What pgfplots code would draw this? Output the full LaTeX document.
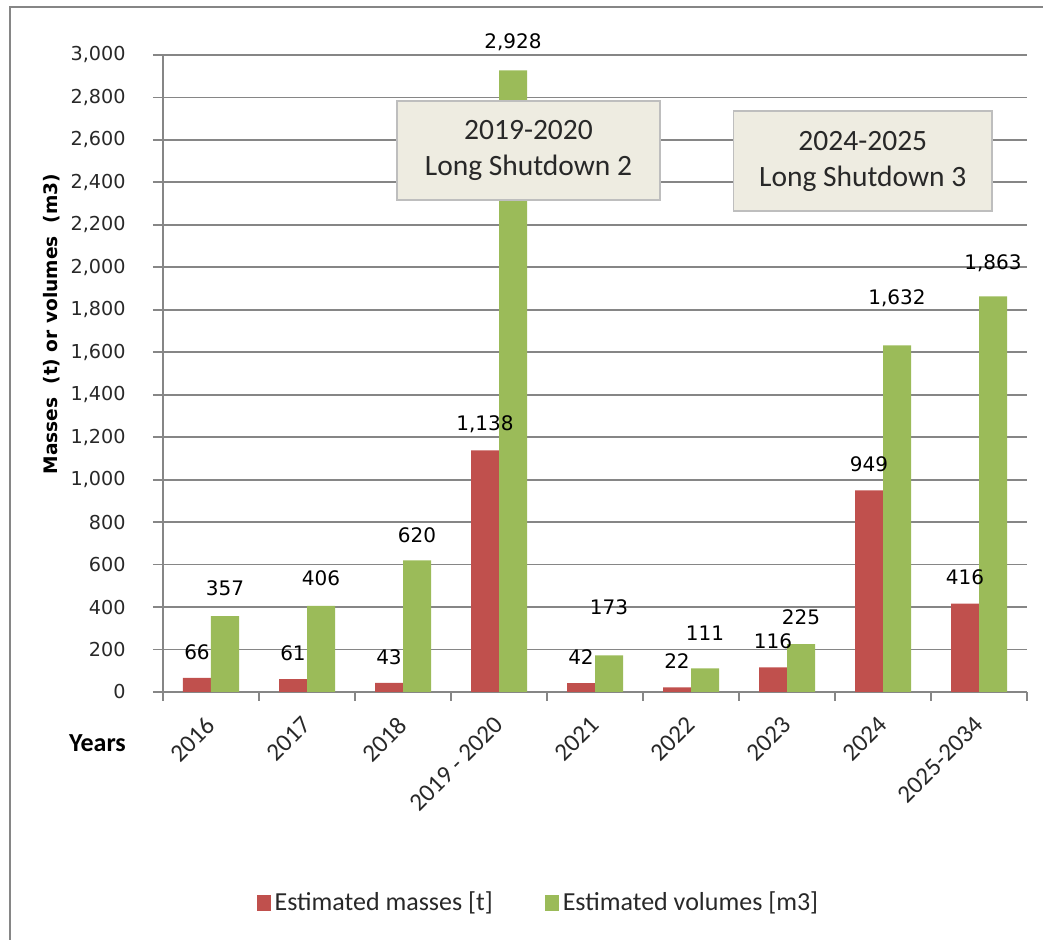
\documentclass[border=0pt]{standalone}
\usepackage{fontspec}
\setmainfont{Carlito}
\newfontfamily\dejavu{DejaVu Sans}
\usepackage{pgfplots}
\usepackage{pgfplotstable}
\pgfplotsset{compat=1.18}

\definecolor{massred}{RGB}{192,80,77}
\definecolor{volgreen}{RGB}{155,187,89}
\definecolor{gridgray}{RGB}{134,134,134}
\definecolor{boxfill}{RGB}{238,236,225}
\definecolor{boxline}{RGB}{190,190,190}
\definecolor{ticktext}{RGB}{40,40,40}

% category index, masses [t], volumes [m3], label lift for the volume values
\pgfplotstableread{
x  mass  vol   dv
0  66    357   28
1  61    406   28
2  43    620   25
3  1138  2928  28
4  42    173   48
5  22    111   35
6  116   225   27
7  949   1632  47
8  416   1863  33
}\wastedata

\begin{document}
\begin{tikzpicture}
\useasboundingbox (-81.5pt,-124pt) rectangle (440pt,346pt);
% chart frame
\draw[gridgray, line width=1.1pt] (-76.5pt,-130pt) -- (-76.5pt,342.5pt) -- (450pt,342.5pt);
\begin{axis}[
  at={(0pt,0pt)}, anchor=south west,
  scale only axis, width=432pt, height=318.5pt,
  clip=false,
  ybar=0pt, bar width=14pt,
  xmin=-0.5, xmax=8.5, ymin=0, ymax=3000,
  ytick={0,200,...,3000},
  xtick={0,...,8},
  xticklabels={2016,2017,2018,2019 - 2020,2021,2022,2023,2024,2025-2034},
  minor xtick={-0.5,0.5,...,8.5},
  axis lines*=left,
  axis line style={gridgray, line width=0.9pt},
  ymajorgrids, grid style={gridgray, line width=0.9pt},
  tick align=outside,
  major tick length=5pt, minor tick length=4.5pt,
  tick style={gridgray, line width=0.9pt},
  major x tick style={draw=none},
  scaled y ticks=false,
  /pgf/number format/1000 sep={,},
  /pgf/number format/assume math mode=true,
  yticklabel style={font=\dejavu\fontsize{9.6}{12}\selectfont, text=ticktext, inner sep=0pt},
  yticklabel shift=13.5pt,
  xticklabel style={font=\fontsize{12.5}{15}\selectfont, text=ticktext, rotate=45, anchor=east, inner sep=0pt},
  xticklabel shift=9.5pt,
  nodes near coords,
  nodes near coords align={center},
  every node near coord/.append style={font=\dejavu\fontsize{10}{12}\selectfont, text=black},
  legend columns=2,
  legend cell align=left,
  legend style={at={(0.101,-0.331)}, anchor=west, draw=none, fill=none,
    font=\fontsize{13}{15}\selectfont, text=ticktext,
    /tikz/every even column/.append style={column sep=24pt}},
  legend image code/.code={\fill[#1] (-2.5pt,-4pt) rectangle (4.5pt,4pt);},
]
\addplot[fill=massred, draw=none, point meta=explicit,
  every node near coord/.append style={yshift=13pt}]
  table[x=x, y=mass, meta=mass] {\wastedata};
\addlegendentry{Estimated masses [t]}
\addplot[fill=volgreen, draw=none, point meta=explicit,
  visualization depends on={\thisrow{dv} \as \labdy},
  every node near coord/.append style={yshift=\labdy*0.5pt}]
  table[x=x, y=vol, meta=vol] {\wastedata};
\addlegendentry{Estimated volumes [m3]}
\end{axis}
% axis titles
\node[rotate=90, font=\dejavu\bfseries\fontsize{9.3}{11}\selectfont] at (-55.5pt,184pt) {Masses\ \ (t) or volumes\ \ (m3)};
\node[font=\bfseries\fontsize{13}{15}\selectfont] at (-32.75pt,-25.5pt) {Years};
% shutdown annotations
\node[draw=boxline, fill=boxfill, line width=0.7pt, minimum width=131.5pt, minimum height=49.5pt,
  align=center, font=\fontsize{14.75}{18}\selectfont, text=ticktext] at (182.75pt,270.75pt)
  {2019-2020\\Long Shutdown 2};
\node[draw=boxline, fill=boxfill, line width=0.7pt, minimum width=129.25pt, minimum height=50pt,
  align=center, font=\fontsize{14.75}{18}\selectfont, text=ticktext] at (349.9pt,265.5pt)
  {2024-2025\\Long Shutdown 3};
\end{tikzpicture}
\end{document}
